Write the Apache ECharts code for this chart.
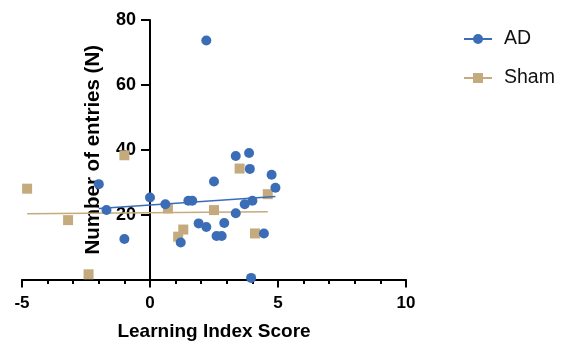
<!DOCTYPE html>
<html>
<head>
<meta charset="utf-8">
<script src="https://cdn.jsdelivr.net/npm/echarts@6/dist/echarts.min.js"></script>
<style>
  html, body { margin: 0; padding: 0; background: #fff; }
  #chart { width: 572px; height: 351px; }
</style>
</head>
<body>
<div id="chart"></div>
<script>
// Learning index score (x) vs number of entries (y) per animal
const adPoints = [
  [-2.0, 29.4], [-1.7, 21.4], [-1.0, 12.5], [0.0, 25.3], [0.6, 23.2],
  [1.5, 24.3], [1.65, 24.3], [2.5, 30.2], [1.9, 17.3], [2.2, 16.2],
  [1.2, 11.4], [2.6, 13.4], [2.8, 13.4], [2.9, 17.4], [3.35, 38.1],
  [3.87, 39.0], [3.9, 34.1], [4.75, 32.3], [4.9, 28.3], [4.0, 24.3],
  [3.7, 23.2], [3.35, 20.4], [4.45, 14.2], [3.95, 0.5], [2.2, 73.7]
];
const shamPoints = [
  [-4.8, 28.0], [-1.0, 38.3], [-3.2, 18.3], [-2.4, 1.6], [0.7, 21.9],
  [2.5, 21.4], [1.3, 15.4], [1.1, 13.2], [3.5, 34.2], [4.6, 26.3], [4.1, 14.2]
];
// Linear fit lines, drawn between the outermost x values of each group
const adFit = [[-2.0, 21.9], [4.9, 25.6]];
const shamFit = [[-4.8, 20.25], [4.6, 20.9]];

const xTicks = [-5, 0, 5, 10];
const yTicks = [0, 20, 40, 60, 80];
const groupNames = ['AD', 'Sham'];

const AD_COLOR = '#3b6db6';
const SHAM_COLOR = '#c5aa7e';
const FONT = 'Liberation Sans, Arial, Helvetica, sans-serif';

const GRID_LEFT = 22, GRID_RIGHT = 166;
const PLOT_W = 572 - GRID_LEFT - GRID_RIGHT;
const xMin = xTicks[0], xMax = xTicks[xTicks.length - 1];
// the y axis crosses the x axis at x = 0; shift it (with its labels and title) there
const yAxisShift = PLOT_W * (0 - xMin) / (xMax - xMin);

const chart = echarts.init(document.getElementById('chart'), null, { renderer: 'canvas' });

chart.setOption({
  animation: false,
  backgroundColor: '#ffffff',
  grid: {
    left: GRID_LEFT, right: GRID_RIGHT, top: 20, bottom: 71.5,
    containLabel: false,
    outerBoundsMode: 'none'
  },
  legend: {
    data: groupNames,
    orient: 'vertical',
    left: 458,
    top: 24,
    itemWidth: 28,
    itemHeight: 12.5,
    itemGap: 19,
    textStyle: {
      fontFamily: FONT, fontSize: 19.5, color: '#111', lineHeight: 20,
      padding: [0, 0, 0, 7]
    }
  },
  xAxis: {
    type: 'value',
    min: xMin,
    max: xMax,
    interval: xTicks[1] - xTicks[0],
    name: 'Learning Index Score',
    nameLocation: 'middle',
    nameGap: 43,
    nameTextStyle: { fontFamily: FONT, fontSize: 19, fontWeight: 'bold', color: '#000' },
    splitLine: { show: false },
    axisLine: { onZero: false, lineStyle: { color: '#000', width: 2 } },
    axisTick: { show: true, length: 8, lineStyle: { color: '#000', width: 2 } },
    minorTick: { show: true, splitNumber: 5, length: 4.5, lineStyle: { color: '#000', width: 2 } },
    axisLabel: {
      margin: 15, fontFamily: FONT, fontSize: 17, fontWeight: 'bold', color: '#000'
    }
  },
  yAxis: {
    type: 'value',
    min: yTicks[0],
    max: yTicks[yTicks.length - 1],
    interval: yTicks[1] - yTicks[0],
    offset: -yAxisShift,
    name: 'Number of entries (N)',
    nameLocation: 'middle',
    nameGap: 46,
    nameTextStyle: { fontFamily: FONT, fontSize: 20.5, fontWeight: 'bold', color: '#000' },
    splitLine: { show: false },
    axisLine: { onZero: false, lineStyle: { color: '#000', width: 2 } },
    axisTick: { show: true, length: 9, lineStyle: { color: '#000', width: 2 } },
    axisLabel: {
      margin: 14, fontFamily: FONT, fontSize: 18, fontWeight: 'bold', color: '#000',
      formatter: v => (v === 0 ? '' : String(v))
    }
  },
  series: [
    {
      name: 'AD', type: 'line', data: adFit,
      symbol: 'circle', symbolSize: 10, showSymbol: false,
      lineStyle: { color: AD_COLOR, width: 1.5 },
      itemStyle: { color: AD_COLOR },
      z: 3, silent: true
    },
    {
      name: 'Sham', type: 'line', data: shamFit,
      symbol: 'rect', symbolSize: 10, showSymbol: false,
      lineStyle: { color: SHAM_COLOR, width: 1.5 },
      itemStyle: { color: SHAM_COLOR },
      z: 2, silent: true
    },
    {
      name: 'Sham', type: 'scatter', data: shamPoints,
      symbol: 'rect', symbolSize: 10,
      itemStyle: { color: SHAM_COLOR, opacity: 1 },
      z: 2
    },
    {
      name: 'AD', type: 'scatter', data: adPoints,
      symbol: 'circle', symbolSize: 10,
      itemStyle: { color: AD_COLOR, opacity: 1 },
      z: 4
    }
  ]
});
</script>
</body>
</html>
